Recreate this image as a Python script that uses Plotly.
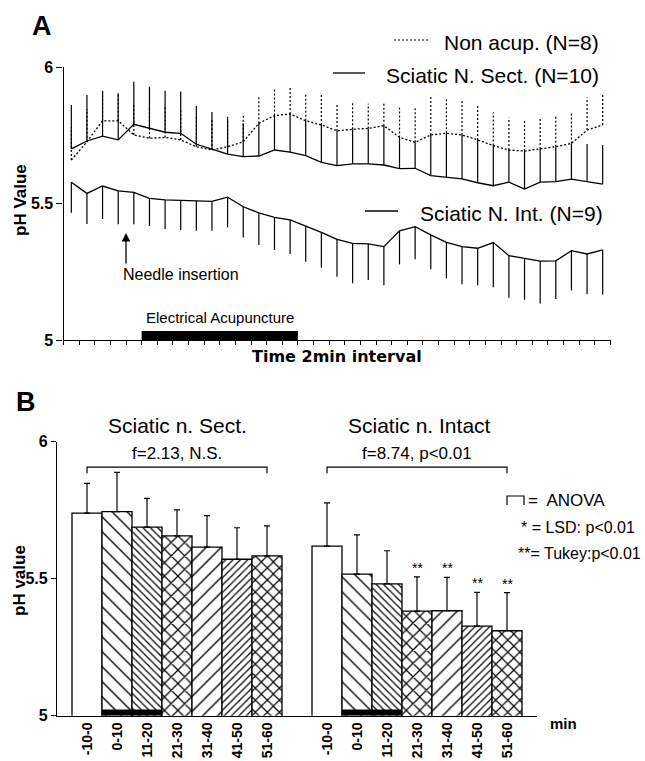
import plotly.graph_objects as go

W, H = 645, 761
FONT = "Liberation Sans, Arial, Helvetica, sans-serif"

# ---------------- Panel A data ----------------
interval = list(range(1, 36))
nonacup_mean = [5.659, 5.726, 5.803, 5.803, 5.751, 5.739, 5.742, 5.733, 5.708, 5.696,
                5.708, 5.726, 5.794, 5.822, 5.828, 5.803, 5.788, 5.766, 5.772, 5.775,
                5.785, 5.742, 5.724, 5.751, 5.757, 5.751, 5.733, 5.712, 5.696, 5.692,
                5.700, 5.708, 5.720, 5.769, 5.788]
nonacup_se = [0.12, 0.12, 0.107, 0.10, 0.11, 0.11, 0.11, 0.11, 0.11, 0.11,
              0.11, 0.104, 0.097, 0.096, 0.098, 0.098, 0.109, 0.101, 0.098, 0.09,
              0.085, 0.109, 0.126, 0.14, 0.128, 0.124, 0.124, 0.122, 0.118, 0.114,
              0.114, 0.114, 0.11, 0.12, 0.116]
sect_mean = [5.700, 5.729, 5.747, 5.733, 5.790, 5.775, 5.761, 5.757, 5.717, 5.699,
             5.681, 5.672, 5.674, 5.696, 5.688, 5.675, 5.651, 5.639, 5.645, 5.645,
             5.641, 5.628, 5.629, 5.602, 5.596, 5.590, 5.576, 5.565, 5.578, 5.553,
             5.578, 5.580, 5.589, 5.580, 5.571]
sect_se = [0.161, 0.168, 0.165, 0.171, 0.156, 0.153, 0.152, 0.153, 0.140, 0.136,
           0.129, 0.122, 0.120, 0.126, 0.140, 0.128, 0.137, 0.127, 0.127, 0.130,
           0.144, 0.114, 0.095, 0.149, 0.161, 0.161, 0.157, 0.147, 0.118, 0.139,
           0.122, 0.128, 0.131, 0.138, 0.143]
int_mean = [5.578, 5.537, 5.564, 5.546, 5.541, 5.519, 5.513, 5.512, 5.510, 5.508,
            5.523, 5.488, 5.466, 5.449, 5.440, 5.418, 5.394, 5.369, 5.354, 5.352,
            5.342, 5.400, 5.415, 5.385, 5.358, 5.342, 5.336, 5.357, 5.309, 5.299,
            5.289, 5.290, 5.327, 5.315, 5.330]
int_se = [0.112, 0.112, 0.121, 0.122, 0.117, 0.101, 0.106, 0.109, 0.110, 0.108,
          0.110, 0.113, 0.118, 0.119, 0.125, 0.131, 0.129, 0.137, 0.146, 0.132,
          0.141, 0.123, 0.119, 0.126, 0.132, 0.138, 0.135, 0.164, 0.154, 0.152,
          0.155, 0.140, 0.146, 0.147, 0.163]
acup_period = [5.5, 15.5]
needle_at = 4.5
a_yticks = [5, 5.5, 6]
a_yticklabels = ["5", "5.5", "6"]

# ---------------- Panel B data ----------------
bin_labels = ["-10-0", "0-10", "11-20", "21-30", "31-40", "41-50", "51-60"]
sect_pos = [0, 1, 2, 3, 4, 5, 6]
intact_pos = [8, 9, 10, 11, 12, 13, 14]
sect_bar_mean = [5.739, 5.745, 5.688, 5.656, 5.615, 5.571, 5.583]
sect_bar_se = [0.109, 0.143, 0.105, 0.095, 0.115, 0.115, 0.110]
intact_bar_mean = [5.619, 5.517, 5.481, 5.382, 5.383, 5.327, 5.310]
intact_bar_se = [0.158, 0.143, 0.121, 0.125, 0.122, 0.123, 0.139]
intact_sig = ["", "", "", "**", "**", "**", "**"]
bin_patterns = ["", "\\", "\\", "x", "/", "/", "x"]
pattern_size = [6, 10.6, 5.2, 9.5, 10.6, 5.2, 8.5]
pattern_solidity = [0.3, 0.13, 0.23, 0.24, 0.13, 0.23, 0.26]
acup_bins = [0.5, 2.5]
anova_level = [5.885, 5.907]


def px(x):
    return x / W


def py(y):
    return 1 - y / H


fig = go.Figure()

# ---- Panel A traces ----
seg_x, seg_y = [], []
for x, m, s in zip(interval, nonacup_mean, nonacup_se):
    seg_x += [x, x, None]
    seg_y += [m, m + s, None]

fig.add_trace(go.Scatter(x=interval, y=sect_mean, mode="lines",
                         line=dict(color="black", width=1.3),
                         error_y=dict(type="data", symmetric=False, array=sect_se,
                                      arrayminus=[0] * len(sect_se), width=0,
                                      thickness=1.2, color="black"),
                         xaxis="x", yaxis="y", hoverinfo="skip"))
fig.add_trace(go.Scatter(x=seg_x, y=seg_y, mode="lines",
                         line=dict(color="black", width=1.2, dash="2px,2px"),
                         xaxis="x", yaxis="y", hoverinfo="skip"))
fig.add_trace(go.Scatter(x=interval, y=nonacup_mean, mode="lines",
                         line=dict(color="black", width=1.3, dash="2px,2px"),
                         xaxis="x", yaxis="y", hoverinfo="skip"))
fig.add_trace(go.Scatter(x=interval, y=int_mean, mode="lines",
                         line=dict(color="black", width=1.3),
                         error_y=dict(type="data", symmetric=False,
                                      array=[0] * len(int_se), arrayminus=int_se,
                                      width=0, thickness=1.2, color="black"),
                         xaxis="x", yaxis="y", hoverinfo="skip"))

# ---- Panel B traces ----
for pos, mean, se in [(sect_pos, sect_bar_mean, sect_bar_se),
                      (intact_pos, intact_bar_mean, intact_bar_se)]:
    fig.add_trace(go.Bar(
        x=pos, y=mean, width=1,
        marker=dict(color="white", line=dict(color="black", width=1.3),
                    pattern=dict(shape=bin_patterns, size=pattern_size,
                                 solidity=pattern_solidity, fgopacity=1,
                                 fgcolor="black", bgcolor="white")),
        error_y=dict(type="data", symmetric=False, array=se,
                     arrayminus=[0] * len(se), width=3, thickness=1.2,
                     color="black"),
        xaxis="x2", yaxis="y2", hoverinfo="skip"))

shapes = []
ann = []


def txt(x, y, text, size, xanchor="center", yanchor="middle", bold=False,
        family=FONT, angle=0):
    f = dict(family=family, size=size, color="black")
    if bold:
        f["weight"] = "bold"
    return dict(x=px(x), y=py(y), xref="paper", yref="paper", text=text,
                showarrow=False, xanchor=xanchor, yanchor=yanchor,
                textangle=angle, font=f)


# acupuncture bar panel A
shapes.append(dict(type="rect", xref="x", yref="y", x0=acup_period[0], x1=acup_period[1],
                   y0=5.0, y1=5.033, fillcolor="black", line=dict(width=0)))
ann.append(dict(x=sum(acup_period) / 2, y=5.082, xref="x", yref="y",
                text="Electrical Acupuncture", showarrow=False,
                xanchor="center", yanchor="middle",
                font=dict(family=FONT, size=15, color="black")))
# needle insertion arrow
ann.append(dict(x=needle_at, y=5.392, xref="x", yref="y", text="", showarrow=True,
                ax=0, ay=32, arrowhead=2, arrowsize=1.3, arrowwidth=1.3,
                arrowcolor="black"))
ann.append(txt(121, 275, "Needle insertion", 16, xanchor="left"))

# legend-like labels panel A
shapes.append(dict(type="line", xref="paper", yref="paper", x0=px(394), x1=px(428),
                   y0=py(40), y1=py(40), line=dict(color="black", width=1.2, dash="2px,2px")))
ann.append(txt(442, 43, "Non acup. (N=8)", 21, xanchor="left"))
shapes.append(dict(type="line", xref="paper", yref="paper", x0=px(333), x1=px(365),
                   y0=py(73), y1=py(73), line=dict(color="black", width=1.3)))
ann.append(txt(384, 76, "Sciatic N. Sect. (N=10)", 21, xanchor="left"))
shapes.append(dict(type="line", xref="paper", yref="paper", x0=px(365), x1=px(398),
                   y0=py(211), y1=py(211), line=dict(color="black", width=1.3)))
ann.append(txt(418, 213, "Sciatic N. Int. (N=9)", 21, xanchor="left"))

# panel labels & axis titles
ann.append(txt(42, 26, "A", 27, bold=True))
ann.append(txt(26, 402, "B", 27, bold=True))
ann.append(txt(21, 200, "pH Value", 17, bold=True, angle=-90))
ann.append(txt(19, 581, "pH value", 17, bold=True, angle=-90))
ann.append(txt(337, 356, "Time 2min interval", 16, bold=True,
               family="DejaVu Sans, sans-serif"))
ann.append(txt(563, 723, "min", 15, bold=True))

# Panel B titles
ann.append(txt(177, 425, "Sciatic n. Sect.", 21))
ann.append(txt(419, 425, "Sciatic n. Intact", 21))
ann.append(dict(x=(sect_pos[0] + sect_pos[-1]) / 2, y=anova_level[1], xref="x2", yref="y2",
                yshift=14, text="f=2.13, N.S.", showarrow=False,
                xanchor="center", yanchor="middle",
                font=dict(family=FONT, size=17, color="black")))
ann.append(dict(x=(intact_pos[0] + intact_pos[-1]) / 2, y=anova_level[1], xref="x2", yref="y2",
                yshift=14, text="f=8.74, p<0.01", showarrow=False,
                xanchor="center", yanchor="middle",
                font=dict(family=FONT, size=17, color="black")))

# ANOVA brackets
for pos in (sect_pos, intact_pos):
    shapes.append(dict(type="path", xref="x2", yref="y2",
                       path=f"M {pos[0]},{anova_level[0]} L {pos[0]},{anova_level[1]} "
                            f"L {pos[-1]},{anova_level[1]} L {pos[-1]},{anova_level[0]}",
                       line=dict(color="black", width=1.2)))
# acupuncture marks in bars
for p0 in (sect_pos[0], intact_pos[0]):
    shapes.append(dict(type="rect", xref="x2", yref="y2", x0=p0 + acup_bins[0],
                       x1=p0 + acup_bins[1], y0=5.0, y1=5.023, fillcolor="black",
                       line=dict(width=0)))

# significance stars
for x, m, s, sig in zip(intact_pos, intact_bar_mean, intact_bar_se, intact_sig):
    if sig:
        ann.append(dict(x=x, y=m + s, xref="x2", yref="y2", yshift=9, text=sig,
                        showarrow=False, xanchor="center", yanchor="middle",
                        font=dict(family=FONT, size=14, color="black")))

# key at right of panel B
shapes.append(dict(type="path", xref="paper", yref="paper",
                   path=f"M {px(507)},{py(505)} L {px(507)},{py(496)} L {px(524)},{py(496)} L {px(524)},{py(505)}",
                   line=dict(color="black", width=1.2)))
ann.append(txt(526, 500, "=  ANOVA", 17, xanchor="left"))
ann.append(txt(519, 527, "* = LSD: p<0.01", 16, xanchor="left"))
ann.append(txt(516, 553, "**= Tukey:p<0.01", 16, xanchor="left"))

axis_common = dict(showgrid=False, zeroline=False, showline=True, linecolor="black",
                   linewidth=1.3, tickcolor="black", tickwidth=1.3, automargin=False)

fig.update_layout(
    width=W, height=H, margin=dict(l=0, r=0, t=0, b=0),
    paper_bgcolor="white", plot_bgcolor="white", showlegend=False,
    barmode="overlay", font=dict(family=FONT, color="black"),
    xaxis=dict(domain=[px(63.5), px(610.5)], range=[0.5, 35.5], anchor="y",
               ticks="outside", tickmode="linear", tick0=0.5, dtick=1, ticklen=4,
               showticklabels=False, **axis_common),
    yaxis=dict(domain=[py(340), py(67)], range=[5, 6], anchor="x",
               tickmode="array", tickvals=a_yticks, ticktext=a_yticklabels,
               ticks="outside", ticklen=6,
               tickfont=dict(family=FONT, size=16, weight="bold", color="black"),
               **axis_common),
    xaxis2=dict(domain=[px(57), px(537)], range=[-1, 15], anchor="y2",
                tickmode="array", tickvals=sect_pos + intact_pos,
                ticktext=bin_labels + bin_labels, tickangle=-90, ticks="",
                tickfont=dict(family=FONT, size=14, weight="bold", color="black"),
                **axis_common),
    yaxis2=dict(domain=[py(715.7), py(441.7)], range=[5, 6], anchor="x2",
                tickmode="array", tickvals=a_yticks, ticktext=a_yticklabels,
                ticks="outside", ticklen=5,
                tickfont=dict(family=FONT, size=16, weight="bold", color="black"),
                **axis_common),
    shapes=shapes, annotations=ann,
)

fig.write_html("out.html")
